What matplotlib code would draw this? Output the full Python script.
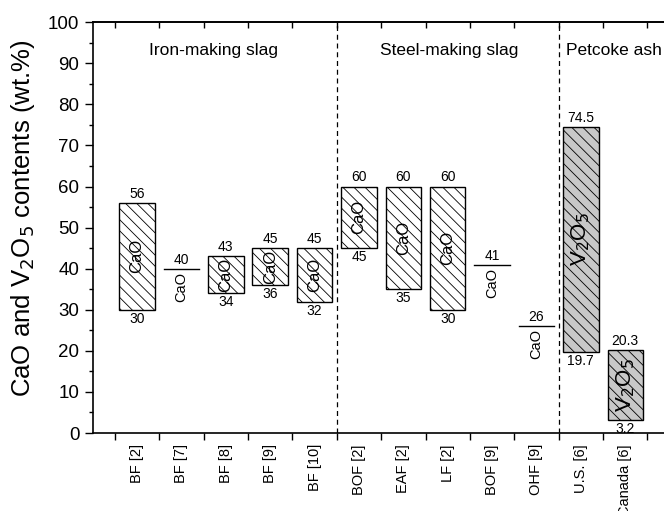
import numpy as np
import matplotlib.pyplot as plt

plt.rcParams['font.family'] = ['Liberation Sans', 'DejaVu Sans']
plt.rcParams['hatch.linewidth'] = 0.6
plt.rcParams['hatch.color'] = '#333333'

# data
labels = ['BF [2]', 'BF [7]', 'BF [8]', 'BF [9]', 'BF [10]',
          'BOF [2]', 'EAF [2]', 'LF [2]', 'BOF [9]', 'OHF [9]',
          'U.S. [6]', 'Canada [6]']
low = [30, 40, 34, 36, 32, 45, 35, 30, 41, 26, 19.7, 3.2]
high = [56, 40, 43, 45, 45, 60, 60, 60, 41, 26, 74.5, 20.3]
oxide = ['CaO'] * 10 + ['V2O5'] * 2
low_txt = ['30', '', '34', '36', '32', '45', '35', '30', '', '', '19.7', '3.2']
high_txt = ['56', '40', '43', '45', '45', '60', '60', '60', '41', '26', '74.5', '20.3']
sections = ['Iron-making slag', 'Steel-making slag', 'Petcoke ash']
section_x = [2.73, 8.03, 11.75]
dividers = [5.5, 10.5]

fig = plt.figure(figsize=(6.64, 5.11), dpi=100)
ax = fig.add_axes([0.1395, 0.1526, 0.869, 0.804])

x = np.arange(1, len(labels) + 1)
w = 0.8
for i in range(len(labels)):
    xi = x[i]
    ox = oxide[i]
    name = 'CaO' if ox == 'CaO' else r'V$_2$O$_5$'
    fc = 'white' if ox == 'CaO' else '#c8c8c8'
    if high[i] > low[i]:
        ax.bar(xi, high[i] - low[i], bottom=low[i], width=w, facecolor=fc,
               edgecolor='black', hatch='\\\\\\', linewidth=1.0, zorder=2)
        ax.text(xi, high[i] + 0.5, high_txt[i], ha='center', va='bottom', fontsize=10)
        ax.text(xi, low[i] - 0.5, low_txt[i], ha='center', va='top', fontsize=10)
        fs = 12 if ox == 'CaO' else 16
        ax.text(xi, (high[i] + low[i]) / 2, name, rotation=90, ha='center',
                va='center', fontsize=fs, zorder=3)
    else:
        ax.plot([xi - w / 2, xi + w / 2], [high[i], high[i]], color='black', lw=1.0)
        ax.text(xi, high[i] + 0.5, high_txt[i], ha='center', va='bottom', fontsize=10)
        ax.text(xi, high[i] - 0.8, name, rotation=90, ha='center', va='top', fontsize=10.5)

for d in dividers:
    ax.axvline(d, color='black', ls=(0, (4, 3)), lw=0.9, zorder=1)
for s, sx in zip(sections, section_x):
    ax.text(sx, 93, s, ha='center', va='center', fontsize=12.5)

ax.set_xlim(0, 13)
ax.set_ylim(0, 100)
ax.set_xticks(np.arange(0.5, 13, 1))
ax.set_xticklabels([])
ax.set_xticks(x, minor=True)
ax.set_xticklabels(labels, minor=True, rotation=90, fontsize=10.5)
ax.tick_params(axis='x', which='minor', length=0, pad=8)
ax.tick_params(axis='x', which='major', direction='out', length=5, width=1)

top = ax.secondary_xaxis('top')
top.set_xticks(np.arange(0.5, 13, 1))
top.set_xticklabels([])
top.tick_params(direction='in', length=4, width=1)
top.spines['top'].set_linewidth(1.2)

ax.set_yticks(np.arange(0, 101, 10))
ax.set_yticks(np.arange(0, 101, 5), minor=True)
ax.tick_params(axis='y', which='major', direction='out', length=6, width=1,
               labelsize=13.5)
ax.tick_params(axis='y', which='minor', direction='out', length=3, width=1)
ax.set_ylabel(r'CaO and V$_2$O$_5$ contents (wt.%)', fontsize=18.5)
ax.yaxis.set_label_coords(-0.096, 0.523)
for sp in ax.spines.values():
    sp.set_linewidth(1.2)

fig.savefig('out.png', dpi=100)
